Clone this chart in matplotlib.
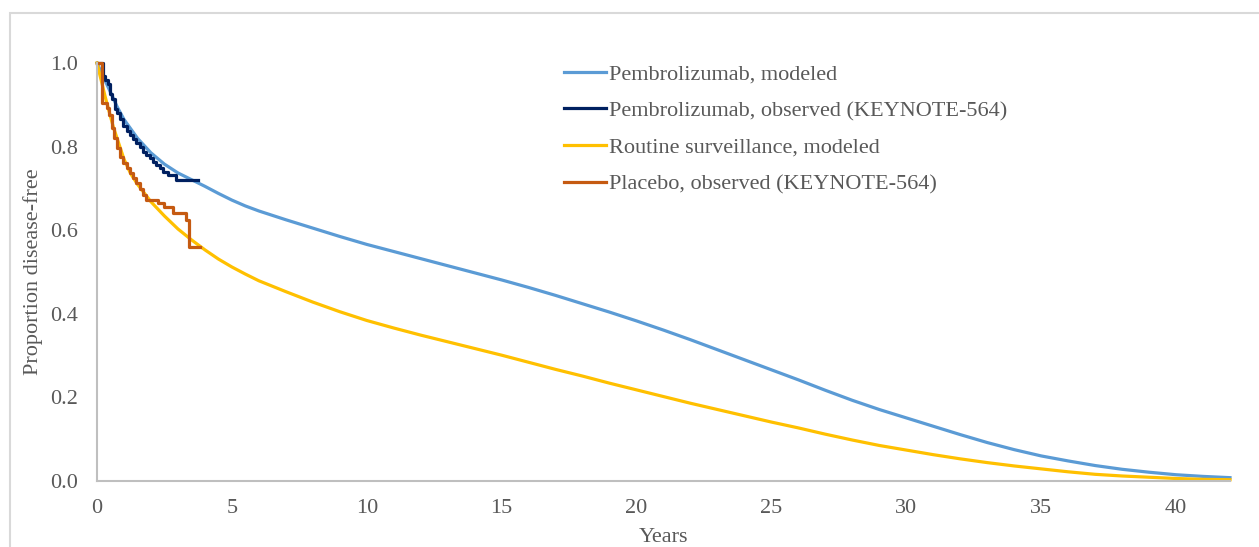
import numpy as np
import matplotlib
matplotlib.use("Agg")
import matplotlib.pyplot as plt
from matplotlib.patches import Rectangle

# modeled curves (years, proportion disease-free)
pem_mod_t = [0, 0.25, 0.5, 0.75, 1, 1.5, 2, 2.5, 3, 3.5, 4, 4.5, 5, 5.5, 6, 7, 8, 9, 10,
             11, 12, 13, 14, 15, 16, 17, 18, 19, 20, 21, 22, 23, 24, 25, 26, 27, 28, 29,
             30, 31, 32, 33, 34, 35, 36, 37, 38, 39, 40, 41, 42]
pem_mod_s = [1.0, 0.965, 0.93, 0.895, 0.865, 0.82, 0.785, 0.758, 0.737, 0.721, 0.705, 0.688,
             0.672, 0.658, 0.646, 0.625, 0.605, 0.585, 0.566, 0.549, 0.532, 0.515, 0.498,
             0.481, 0.463, 0.444, 0.424, 0.404, 0.383, 0.361, 0.338, 0.314, 0.290, 0.266,
             0.242, 0.217, 0.193, 0.171, 0.151, 0.131, 0.111, 0.092, 0.075, 0.060, 0.048,
             0.037, 0.028, 0.021, 0.015, 0.011, 0.008]

rs_mod_t = [0, 0.3, 0.6, 1, 1.25, 1.5, 2, 2.5, 3, 3.5, 4, 4.5, 5, 5.5, 6, 7, 8, 9, 10, 11,
            12, 13, 14, 15, 16, 17, 18, 19, 20, 21, 22, 23, 24, 25, 26, 27, 28, 29, 30, 31,
            32, 33, 34, 35, 36, 37, 38, 39, 40, 41, 42]
rs_mod_s = [1.0, 0.92, 0.848, 0.770, 0.735, 0.710, 0.668, 0.634, 0.603, 0.577, 0.553, 0.531,
            0.512, 0.495, 0.479, 0.453, 0.428, 0.405, 0.384, 0.366, 0.349, 0.333, 0.317,
            0.301, 0.284, 0.267, 0.251, 0.234, 0.218, 0.202, 0.186, 0.171, 0.156, 0.141,
            0.127, 0.112, 0.098, 0.085, 0.074, 0.063, 0.053, 0.044, 0.036, 0.029, 0.022,
            0.016, 0.012, 0.009, 0.006, 0.004, 0.003]

# observed KM (KEYNOTE-564)
pem_obs_t = [0, 0.23, 0.3, 0.42, 0.48, 0.54, 0.66, 0.73, 0.85, 0.97, 1.1, 1.22, 1.34, 1.46,
             1.59, 1.71, 1.83, 1.95, 2.08, 2.2, 2.32, 2.45, 2.63, 2.94, 3.18, 3.74]
pem_obs_s = [1.0, 0.97, 0.96, 0.95, 0.925, 0.915, 0.89, 0.88, 0.865, 0.85, 0.838, 0.828, 0.818,
             0.808, 0.798, 0.788, 0.78, 0.772, 0.764, 0.756, 0.748, 0.74, 0.732, 0.72, 0.72, 0.72]

pla_obs_t = [0, 0.2, 0.36, 0.45, 0.54, 0.64, 0.73, 0.85, 0.97, 1.1, 1.22, 1.34, 1.46, 1.59,
             1.71, 1.83, 2.26, 2.5, 2.82, 3.31, 3.4, 3.8]
pla_obs_s = [1.0, 0.904, 0.893, 0.875, 0.844, 0.82, 0.796, 0.776, 0.76, 0.748, 0.736, 0.724,
             0.712, 0.698, 0.684, 0.672, 0.664, 0.656, 0.642, 0.624, 0.561, 0.561]

labels = ["Pembrolizumab, modeled", "Pembrolizumab, observed (KEYNOTE-564)",
          "Routine surveillance, modeled", "Placebo, observed (KEYNOTE-564)"]
colors = ["#5B9BD5", "#002060", "#FFC000", "#C55A11"]

plt.rcParams['font.family'] = ['Liberation Serif', 'DejaVu Serif']
txt = '#595959'
fs = 16

W, H = 1259, 547
fig = plt.figure(figsize=(W / 100, H / 100), dpi=100)
fig.patches.append(Rectangle((10 / W, -0.1), 1.2, 1.1 - 13 / H, transform=fig.transFigure,
                             fill=False, edgecolor='#D9D9D9', linewidth=1.5))

ax = fig.add_axes([97 / W, 1 - 481 / H, (1230 - 97) / W, (481 - 63) / H])

ax.plot(pem_mod_t, pem_mod_s, color=colors[0], lw=2.3, label=labels[0], clip_on=False)
ax.plot(pem_obs_t, pem_obs_s, color=colors[1], lw=2.3, drawstyle='steps-post',
        label=labels[1], clip_on=False)
ax.plot(rs_mod_t, rs_mod_s, color=colors[2], lw=2.3, label=labels[2], clip_on=False)
ax.plot(pla_obs_t, pla_obs_s, color=colors[3], lw=2.3, drawstyle='steps-post',
        label=labels[3], clip_on=False)

ax.set_xlim(0, 42)
ax.set_ylim(0, 1)
ax.set_xticks(range(0, 41, 5))
ax.set_yticks([0, 0.2, 0.4, 0.6, 0.8, 1.0])
ax.set_yticklabels(['0.0', '0.2', '0.4', '0.6', '0.8', '1.0'])
ax.tick_params(length=0, labelsize=fs, labelcolor=txt)
ax.tick_params(axis='x', pad=13)
ax.tick_params(axis='y', pad=14)
for s in ['top', 'right']:
    ax.spines[s].set_visible(False)
for s in ['left', 'bottom']:
    ax.spines[s].set_color('#BFBFBF')
    ax.spines[s].set_linewidth(1.5)

ax.set_xlabel('Years', fontsize=fs, color=txt, labelpad=7)
ax.set_ylabel('Proportion disease-free', fontsize=fs, color=txt, labelpad=5)

leg = ax.legend(loc='upper left', bbox_to_anchor=(553 / W, 1 - 53 / H),
                bbox_transform=fig.transFigure, frameon=False, fontsize=fs, borderpad=0,
                handlelength=1.9, handletextpad=0.14, labelspacing=0.72)
for t in leg.get_texts():
    t.set_color(txt)
for h in leg.get_lines():
    h.set_linewidth(2.3)

fig.savefig('out.png', dpi=100)
